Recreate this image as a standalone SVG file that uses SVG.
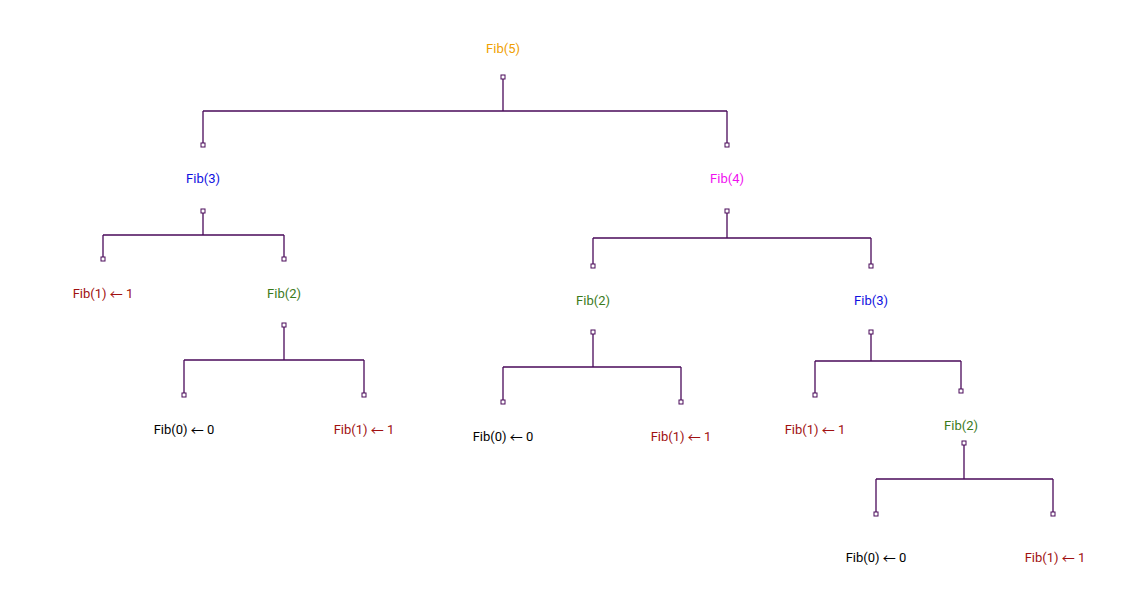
<svg xmlns="http://www.w3.org/2000/svg" width="1132" height="596" viewBox="0 0 1132 596">
<style>
text{font-family:Roboto,"Liberation Sans",sans-serif;font-size:13px;text-anchor:middle;dominant-baseline:central}
tspan.a{font-family:"Noto Sans CJK SC",sans-serif;font-size:13px}
.p{fill:#fff;stroke:#4a0a5a;stroke-width:1}
.c path{fill:none;stroke:#4a0a5a;stroke-width:1.3}
.o{fill:#f0a000}.b{fill:#1010e0}.m{fill:#f010f0}.g{fill:#3a7a1a}.r{fill:#a01010}.k{fill:#000}
</style>
<rect width="1132" height="596" fill="#fff"/>
<g class="c" id="connectors">
<path d="M503,79V111M203,111H727M203,111V143M727,111V143"/>
<path d="M203,213V235M103,235H284M103,235V257M284,235V257"/>
<path d="M727,213V238M593,238H871M593,238V264M871,238V264"/>
<path d="M284,327V360M184,360H364M184,360V393M364,360V393"/>
<path d="M593,334V367M503,367H681M503,367V400M681,367V400"/>
<path d="M871,334V361M815,361H961M815,361V393M961,361V389"/>
<path d="M964,445V479M876,479H1053M876,479V512M1053,479V512"/>
</g>
<g id="fib5"><text class="o" x="503" y="48">Fib(5)</text><rect class="p" x="501" y="75" width="4" height="4"/></g>
<g id="fib3a"><rect class="p" x="201" y="143" width="4" height="4"/><text class="b" x="203" y="178">Fib(3)</text><rect class="p" x="201" y="209" width="4" height="4"/></g>
<g id="fib4"><rect class="p" x="725" y="143" width="4" height="4"/><text class="m" x="727" y="178">Fib(4)</text><rect class="p" x="725" y="209" width="4" height="4"/></g>
<g id="fib1a"><rect class="p" x="101" y="257" width="4" height="4"/><text class="r" x="103" y="293">Fib(1) <tspan class="a">←</tspan> 1</text></g>
<g id="fib2a"><rect class="p" x="282" y="257" width="4" height="4"/><text class="g" x="284" y="293">Fib(2)</text><rect class="p" x="282" y="323" width="4" height="4"/></g>
<g id="fib0a"><rect class="p" x="182" y="393" width="4" height="4"/><text class="k" x="184" y="429">Fib(0) <tspan class="a">←</tspan> 0</text></g>
<g id="fib1b"><rect class="p" x="362" y="393" width="4" height="4"/><text class="r" x="364" y="429">Fib(1) <tspan class="a">←</tspan> 1</text></g>
<g id="fib2b"><rect class="p" x="591" y="264" width="4" height="4"/><text class="g" x="593" y="300">Fib(2)</text><rect class="p" x="591" y="330" width="4" height="4"/></g>
<g id="fib3b"><rect class="p" x="869" y="264" width="4" height="4"/><text class="b" x="871" y="300">Fib(3)</text><rect class="p" x="869" y="330" width="4" height="4"/></g>
<g id="fib0b"><rect class="p" x="501" y="400" width="4" height="4"/><text class="k" x="503" y="436">Fib(0) <tspan class="a">←</tspan> 0</text></g>
<g id="fib1c"><rect class="p" x="679" y="400" width="4" height="4"/><text class="r" x="681" y="436">Fib(1) <tspan class="a">←</tspan> 1</text></g>
<g id="fib1d"><rect class="p" x="813" y="393" width="4" height="4"/><text class="r" x="815" y="429">Fib(1) <tspan class="a">←</tspan> 1</text></g>
<g id="fib2c"><rect class="p" x="959" y="389" width="4" height="4"/><text class="g" x="961" y="425">Fib(2)</text><rect class="p" x="962" y="441" width="4" height="4"/></g>
<g id="fib0c"><rect class="p" x="874" y="512" width="4" height="4"/><text class="k" x="876" y="557">Fib(0) <tspan class="a">←</tspan> 0</text></g>
<g id="fib1e"><rect class="p" x="1051" y="512" width="4" height="4"/><text class="r" x="1055" y="557">Fib(1) <tspan class="a">←</tspan> 1</text></g>
</svg>
